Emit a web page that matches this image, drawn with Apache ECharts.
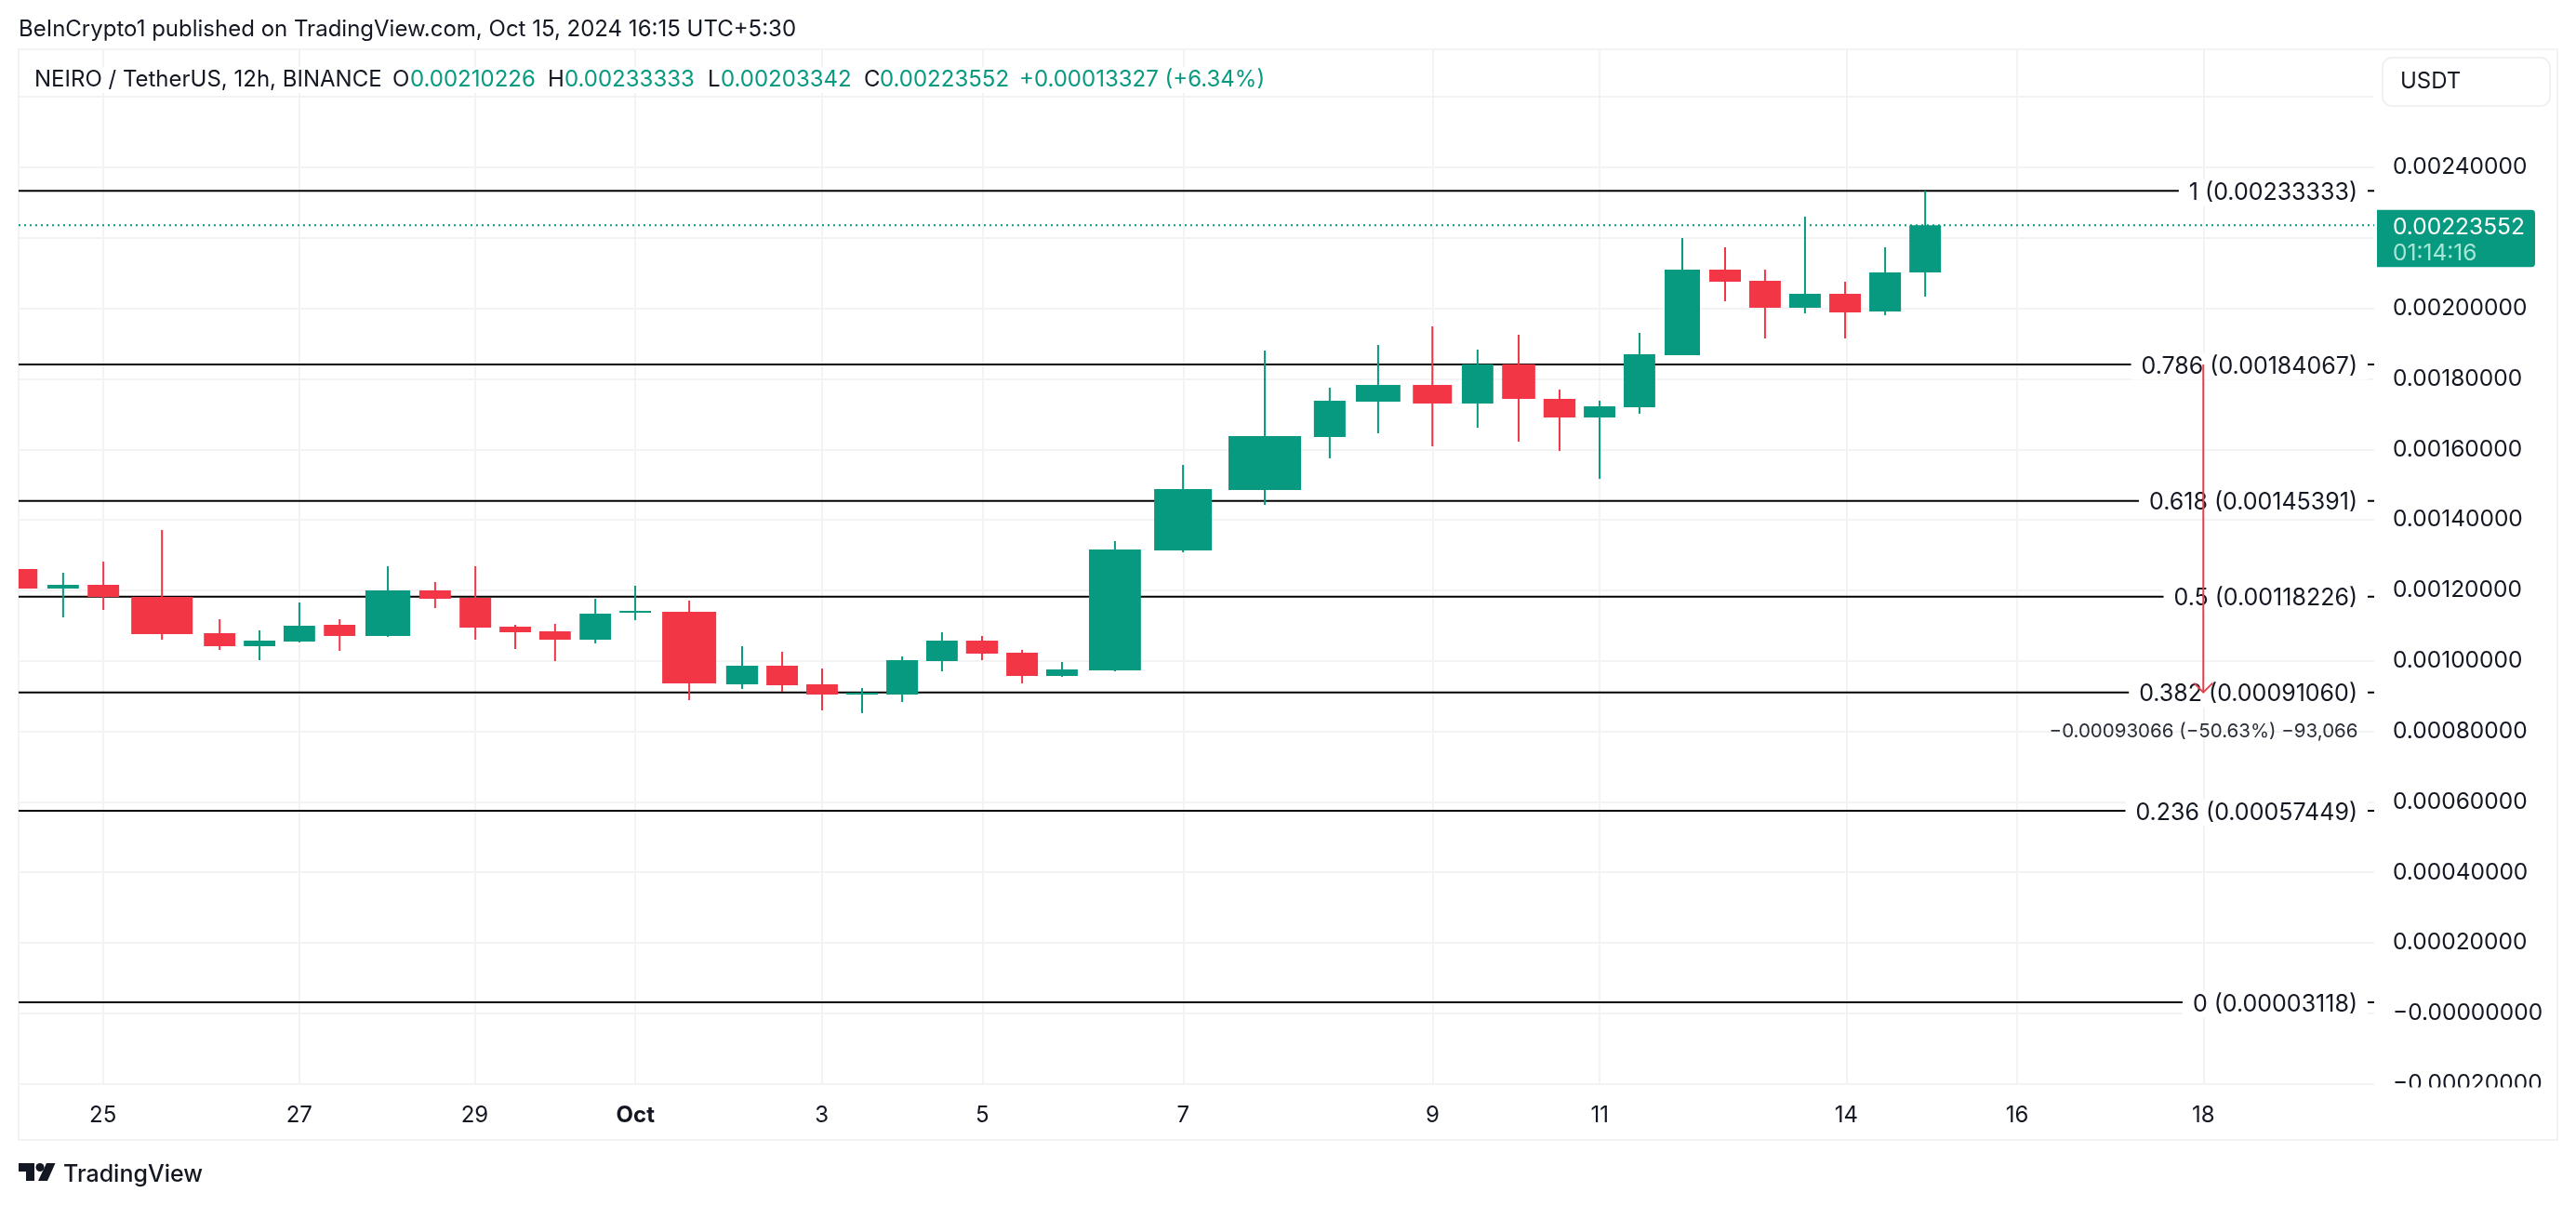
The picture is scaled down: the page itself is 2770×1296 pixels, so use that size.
<!DOCTYPE html>
<html>
<head>
<meta charset="utf-8">
<title>NEIRO / TetherUS</title>
<script src="https://cdn.jsdelivr.net/npm/echarts@6/dist/echarts.min.js"></script>
<style>
    html, body { margin: 0; padding: 0; background: #fff; }
    #chart { width: 2770px; height: 1296px; }
</style>
</head>
<body>
<div id="chart"></div>
<script>
// bar start / end on the time axis, in days counted from Sep 1 (Oct 1 = 31)
var barFrom = [23.934, 24.391, 24.832, 25.310, 26.105, 26.542, 26.978, 27.419, 27.874, 28.464, 28.905,
    29.342, 29.778, 30.219, 30.656, 31.124, 31.824, 32.265, 32.702, 33.137, 33.578, 34.015,
    34.451, 34.892, 35.329, 35.797, 36.511, 37.325, 38.260, 38.720, 39.344, 39.880, 40.321,
    40.775, 41.216, 41.653, 42.101, 42.590, 43.027, 43.465, 43.904, 44.342, 44.781];
var barTo = [24.282, 24.736, 25.177, 25.982, 26.450, 26.887, 27.323, 27.764, 28.365, 28.810, 29.251,
    29.687, 30.123, 30.564, 31.001, 31.715, 32.174, 32.610, 33.047, 33.488, 33.925, 34.360,
    34.801, 35.238, 35.674, 36.366, 37.143, 38.120, 38.607, 39.207, 39.771, 40.225, 40.684,
    41.125, 41.561, 41.998, 42.488, 42.936, 43.373, 43.811, 44.250, 44.689, 45.127];
var opens = [0.00126047, 0.00120507, 0.00121563, 0.00118133, 0.00107846, 0.00104153, 0.00105472, 0.00110220,
    0.00107055, 0.00119980, 0.00117870, 0.00109692, 0.00108373, 0.00105999, 0.00113649, 0.00113913,
    0.00093338, 0.00098614, 0.00093338, 0.00090436, 0.00090436, 0.00099932, 0.00105736, 0.00102306,
    0.00095712, 0.00097295, 0.00131322, 0.00148468, 0.00163504, 0.00173527, 0.00178275, 0.00173000,
    0.00184166, 0.00174319, 0.00169043, 0.00171945, 0.00186716, 0.00210984, 0.00207819, 0.00200169,
    0.00204126, 0.00199114, 0.00210226];
var closes = [0.00120507, 0.00121563, 0.00118133, 0.00107582, 0.00104153, 0.00105736, 0.00109956, 0.00107055,
    0.00119980, 0.00117606, 0.00109429, 0.00108110, 0.00105999, 0.00113385, 0.00114177, 0.00093602,
    0.00098614, 0.00093074, 0.00090436, 0.00090964, 0.00100196, 0.00105736, 0.00102043, 0.00095712,
    0.00097558, 0.00131586, 0.00148732, 0.00163767, 0.00173791, 0.00178275, 0.00173000, 0.00184166,
    0.00174319, 0.00169043, 0.00172208, 0.00186980, 0.00210984, 0.00207555, 0.00200169, 0.00204126,
    0.00198850, 0.00210193, 0.00223552];
var highs = [0.00126047, 0.00124992, 0.00128157, 0.00137126, 0.00111803, 0.00108637, 0.00116551, 0.00111803,
    0.00126838, 0.00122354, 0.00126838, 0.00110220, 0.00110484, 0.00117606, 0.00121299, 0.00117078,
    0.00104153, 0.00102570, 0.00097822, 0.00092283, 0.00101251, 0.00108110, 0.00107055, 0.00103098,
    0.00099669, 0.00133960, 0.00155590, 0.00188035, 0.00177484, 0.00189618, 0.00194893, 0.00188299,
    0.00192519, 0.00176956, 0.00173791, 0.00193047, 0.00219953, 0.00217315, 0.00210984, 0.00226020,
    0.00207555, 0.00217315, 0.00233333];
var lows = [0.00120507, 0.00112330, 0.00114440, 0.00105999, 0.00103098, 0.00100196, 0.00105208, 0.00102834,
    0.00106791, 0.00114968, 0.00105999, 0.00103362, 0.00099932, 0.00104944, 0.00111539, 0.00088854,
    0.00092019, 0.00091228, 0.00085952, 0.00085161, 0.00088326, 0.00097031, 0.00100196, 0.00093602,
    0.00095448, 0.00097031, 0.00130795, 0.00144247, 0.00157437, 0.00164559, 0.00160866, 0.00166141,
    0.00162185, 0.00159547, 0.00151633, 0.00170098, 0.00186716, 0.00202016, 0.00191464, 0.00198586,
    0.00191464, 0.00198059, 0.00203342];

var fibValues = [0.00233333, 0.00184067, 0.00145391, 0.00118226, 0.00091060, 0.00057449, 0.00003118];
var fibLabels = ['1 (0.00233333)', '0.786 (0.00184067)', '0.618 (0.00145391)', '0.5 (0.00118226)',
    '0.382 (0.00091060)', '0.236 (0.00057449)', '0 (0.00003118)'];

var timeTicks = [25, 27.149, 29.07, 30.83, 32.87, 34.63, 36.83, 39.56, 41.39, 44.09, 45.96, 48];
var timeLabels = ['25', '27', '29', 'Oct', '3', '5', '7', '9', '11', '14', '16', '18'];
var priceTicks = [0.0024, 0.0020, 0.0018, 0.0016, 0.0014, 0.0012, 0.0010, 0.0008, 0.0006, 0.0004, 0.0002, 0, -0.0002];

var lastPrice = 0.00223552;
var measureDay = 48;
var measureFrom = 0.00184067;
var measureTo = 0.00091060;
var measureText = '\u22120.00093066 (\u221250.63%) \u221293,066';

var UP = '#089981';
var DOWN = '#F23645';
var GRID = '#F3F3F4';
var TEXT = '#131722';
var FONT = 'Inter';
var xMin = 24.076;
var xMax = 49.871;

var candleData = barFrom.map(function (from, i) {
    return [from, barTo[i], opens[i], closes[i], lows[i], highs[i]];
});

function renderCandle(params, api) {
    var from = api.value(0), to = api.value(1);
    var open = api.value(2), close = api.value(3);
    var mid = (from + to) / 2;
    var color = close >= open ? UP : DOWN;
    var wickTop = api.coord([mid, api.value(5)]);
    var wickBottom = api.coord([mid, api.value(4)]);
    var bodyA = api.coord([from, Math.max(open, close)]);
    var bodyB = api.coord([to, Math.min(open, close)]);
    return {
        type: 'group',
        children: [{
            type: 'rect',
            shape: { x: wickTop[0] - 1, y: wickTop[1], width: 2, height: wickBottom[1] - wickTop[1] },
            style: { fill: color }
        }, {
            type: 'rect',
            shape: { x: bodyA[0], y: bodyA[1], width: bodyB[0] - bodyA[0], height: bodyB[1] - bodyA[1] },
            style: { fill: color }
        }]
    };
}

function renderFib(params, api) {
    var v = api.value(0);
    var left = api.coord([xMin, v]);
    var right = api.coord([xMax, v]);
    return {
        type: 'group',
        children: [{
            type: 'line',
            shape: { x1: left[0], y1: left[1], x2: right[0], y2: right[1] },
            style: { stroke: '#000', lineWidth: 2 }
        }, {
            type: 'text',
            style: {
                x: right[0] - 7, y: right[1] + 2,
                text: fibLabels[params.dataIndex],
                font: '25px ' + FONT, fill: TEXT,
                align: 'right', verticalAlign: 'middle',
                backgroundColor: '#fff', padding: [2, 11]
            }
        }]
    };
}

function renderLastLine(params, api) {
    var left = api.coord([xMin, api.value(0)]);
    var right = api.coord([xMax, api.value(0)]);
    return {
        type: 'line',
        shape: { x1: left[0], y1: left[1], x2: right[0], y2: right[1] },
        style: { stroke: UP, lineWidth: 2, lineDash: [2, 4] }
    };
}

function renderLastTag(params, api) {
    var p = api.coord([xMax, api.value(0)]);
    return {
        type: 'group',
        children: [{
            type: 'rect',
            shape: { x: p[0] + 3, y: p[1] - 16.5, width: 170, height: 61.5, r: [0, 4, 4, 0] },
            style: { fill: UP }
        }, {
            type: 'text',
            style: { x: p[0] + 20, y: p[1] + 2, text: lastPrice.toFixed(8), font: '24.5px ' + FONT, fill: '#fff', verticalAlign: 'middle' }
        }, {
            type: 'text',
            style: { x: p[0] + 20, y: p[1] + 30, text: '01:14:16', font: '24.5px ' + FONT, fill: '#A8E6D6', verticalAlign: 'middle' }
        }]
    };
}

function renderMeasure(params, api) {
    var a = api.coord([api.value(0), api.value(1)]);
    var b = api.coord([api.value(0), api.value(2)]);
    var right = api.coord([xMax, api.value(2)]);
    return {
        type: 'group',
        children: [{
            type: 'line',
            shape: { x1: a[0], y1: a[1], x2: b[0], y2: b[1] },
            style: { stroke: '#E5404F', lineWidth: 2 }
        }, {
            type: 'polyline',
            shape: { points: [[b[0] - 10, b[1] - 10], [b[0], b[1]], [b[0] + 10, b[1] - 10]] },
            style: { stroke: '#E5404F', lineWidth: 2, fill: null }
        }, {
            type: 'text',
            style: {
                x: right[0] - 17.5, y: b[1] + 42, text: measureText, font: '20.5px ' + FONT, fill: '#2A2E39',
                align: 'right', verticalAlign: 'middle'
            }
        }]
    };
}

// ohlc header, each piece placed where it sits in the picture
var header = [
    ['NEIRO / TetherUS, 12h, BINANCE', 37, TEXT], ['O', 422, TEXT], ['0.00210226', 441, UP],
    ['H', 589, TEXT], ['0.00233333', 607, UP], ['L', 761, TEXT], ['0.00203342', 775, UP],
    ['C', 929, TEXT], ['0.00223552', 946, UP], ['+0.00013327 (+6.34%)', 1096, UP]
];
var graphics = header.map(function (h) {
    return { type: 'text', z: 100, x: h[1], y: 86, style: { text: h[0], font: '24px ' + FONT, fill: h[2], verticalAlign: 'middle' } };
});
graphics.push(
    { type: 'text', z: 100, x: 20, y: 32, style: { text: 'BeInCrypto1 published on TradingView.com, Oct 15, 2024 16:15 UTC+5:30', font: '24px ' + FONT, fill: TEXT, verticalAlign: 'middle' } },
    // frame
    { type: 'rect', z: -1, shape: { x: 20, y: 53, width: 2730, height: 1173 }, style: { fill: null, stroke: GRID, lineWidth: 2 } },
    // white band behind the header so the grid does not run through the text
    { type: 'rect', z: 99, shape: { x: 30, y: 72, width: 1340, height: 28 }, style: { fill: '#fff' } },
    // bottom price label is cut off by the pane edge
    { type: 'rect', z: 100, shape: { x: 2556, y: 1169.5, width: 190, height: 30 }, style: { fill: '#fff' } },
    // currency box
    { type: 'rect', z: 100, shape: { x: 2562, y: 62, width: 180, height: 52, r: 10 }, style: { fill: '#fff', stroke: '#EDEDEE', lineWidth: 1.5 } },
    { type: 'text', z: 101, x: 2581, y: 88, style: { text: 'USDT', font: '24px ' + FONT, fill: TEXT, verticalAlign: 'middle' } },
    // logo
    { type: 'polygon', shape: { points: [[20, 1251], [37, 1251], [37, 1270], [28, 1270], [28, 1260], [20, 1260]] }, style: { fill: TEXT } },
    { type: 'circle', shape: { cx: 43, cy: 1255.5, r: 4.5 }, style: { fill: TEXT } },
    { type: 'polygon', shape: { points: [[50, 1251], [59.5, 1251], [51, 1270], [41, 1270]] }, style: { fill: TEXT } },
    { type: 'text', x: 68, y: 1263, style: { text: 'TradingView', font: '500 25px ' + FONT, fill: TEXT, verticalAlign: 'middle' } }
);

var myChart = echarts.init(document.getElementById('chart'), null, { width: 2770, height: 1296 });
var option = {
    animation: false,
    backgroundColor: '#fff',
    textStyle: { fontFamily: FONT },
    grid: { left: 20, right: 217, top: 53, bottom: 130.3 },
    xAxis: {
        type: 'value',
        min: xMin,
        max: xMax,
        axisLine: { show: false },
        axisTick: { show: false, customValues: timeTicks },
        splitLine: { show: true, lineStyle: { color: GRID, width: 2 } },
        axisLabel: {
            customValues: timeTicks,
            margin: 22,
            fontSize: 24,
            fontFamily: FONT,
            color: TEXT,
            formatter: function (v) {
                var s = timeLabels[timeTicks.indexOf(v)];
                return s === 'Oct' ? '{b|Oct}' : s;
            },
            rich: { b: { fontSize: 24, fontWeight: 'bold', fontFamily: FONT, color: TEXT } }
        }
    },
    yAxis: {
        type: 'value',
        position: 'right',
        min: -0.0002,
        max: 0.002735,
        interval: 0.0002,
        axisLine: { show: false },
        axisTick: { show: false },
        splitLine: { show: true, lineStyle: { color: GRID, width: 2 } },
        axisLabel: {
            customValues: priceTicks,
            margin: 20,
            fontSize: 24.5,
            fontFamily: FONT,
            color: TEXT,
            padding: [3, 0, 0, 0],
            formatter: function (v) {
                return (v <= 0 ? '\u2212' : '') + Math.abs(v).toFixed(8);
            }
        }
    },
    graphic: graphics,
    series: [{
        type: 'custom', name: 'last', z: 2, clip: true,
        renderItem: renderLastLine, data: [[lastPrice]], encode: { y: 0 }, silent: true
    }, {
        type: 'custom', name: 'fib', z: 3, clip: true,
        renderItem: renderFib, data: fibValues.map(function (v) { return [v]; }), encode: { y: 0 }, silent: true
    }, {
        type: 'custom', name: 'NEIRO / TetherUS', z: 4, clip: true,
        renderItem: renderCandle, data: candleData, encode: { x: [0, 1], y: [2, 3, 4, 5] }, silent: true
    }, {
        type: 'custom', name: 'measure', z: 5, clip: true,
        renderItem: renderMeasure, data: [[measureDay, measureFrom, measureTo]], encode: { x: 0, y: [1, 2] }, silent: true
    }, {
        type: 'custom', name: 'lastTag', z: 6, clip: false,
        renderItem: renderLastTag, data: [[lastPrice]], encode: { y: 0 }, silent: true
    }]
};
myChart.setOption(option);
</script>
</body>
</html>
